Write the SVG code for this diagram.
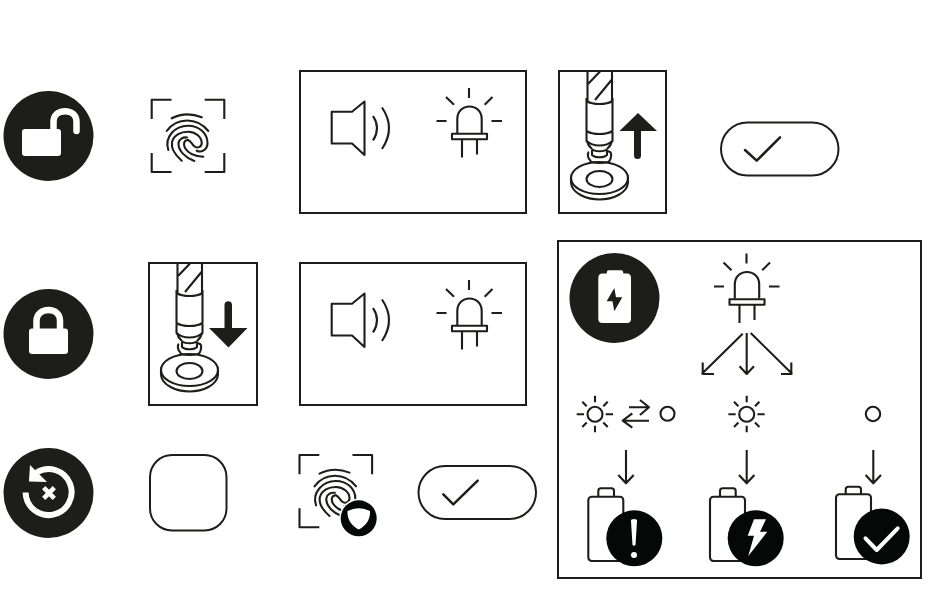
<svg xmlns="http://www.w3.org/2000/svg" width="950" height="614" viewBox="0 0 950 614">
<style>
.l{fill:none;stroke:#1d1d1b;stroke-width:2.100;stroke-linecap:butt;stroke-linejoin:round}
.r{fill:none;stroke:#1d1d1b;stroke-width:2.100;stroke-linecap:round;stroke-linejoin:round}
.box{fill:none;stroke:#1d1d1b;stroke-width:2}
.d{fill:#1d1d1b}
.k{fill:#060807}
.w{fill:#fff}
.ws{fill:none;stroke:#fff;stroke-linecap:round;stroke-linejoin:round}
</style>
<defs>
<g id="led">
<path class="l" d="M469 88V98M436.500 121H446.500M491.500 121H502M446 97L454 104.700M492.500 97L484.700 104.700"/>
<path class="l" d="M457.300 133V119C457.300 111 463 106.500 469.500 106.500C476 106.500 481.700 111 481.700 119V133"/>
<rect class="l" x="452" y="133.700" width="35" height="5.600"/>
<path class="l" d="M462 139.500V157.500M477 139.500V154.500"/>
</g>
<g id="speaker">
<path class="l" d="M331.700 111.700H352L364.500 101.500V155L352 143.500H331.700Z"/>
<path class="l" d="M373 116Q381 128 373 140.500M382 107.500Q396 128 382 149"/>
</g>
<g id="print">
<path class="r" d="M171.700 118.300Q186 111 201.700 117.300"/>
<path class="r" d="M166.700 131C177 117 197 117 208.300 131"/>
<path class="r" d="M168.300 150C164 137 175 125.700 188 125.700C200 125.700 207.500 134 207.500 143C207.500 150 201 153 196.700 150.700"/>
<path class="r" d="M181.700 160.700C174 154 171 148 172 142C174 135 181 131.500 188.300 131.700C196 132 201.700 137 201.700 143C201.700 147 197 149 194 146C192 144 191 141 188 140"/>
<path class="r" d="M194.300 161C186 158 178 151 178.500 143C179 139 183 137 187 137.500M188 140C184 140 183 144 185 148C188 153 195 156.500 203.300 156.700"/>
</g>
<g id="foot">
<path class="l" d="M587.500 71V101M612 71V101"/>
<path class="l" d="M588 84L600 71.500M595 100L611.500 80"/>
<path class="l" d="M586.500 98V131C593 135 606 135 612.500 131V98"/>
<path class="l" d="M586.500 101C593 105 606 105 612.500 101"/>
<path class="l" d="M586.500 132V141C593 147 606 147 612.500 141V132"/>
<path class="l" d="M587 141C588 146 591 148 592 149M612 141C611 146 608 148 607 149"/>
<path class="l" d="M592 149C594 152 605 152 607 149"/>
<path class="l" d="M592 150V155C595 158 604 158 607 155V150"/>
<path class="l" d="M589 152C587 153 588 159 590 160C590 164 609 164 610 160C611 158 612 153 610 152C608 151 606 151 606 151"/>
<ellipse class="l" cx="599.500" cy="178" rx="28.500" ry="16"/>
<path class="l" d="M571 178V183C572 193 586 199.500 599.500 199.500C613 199.500 627 193 628 183V178"/>
<ellipse class="l" cx="599.500" cy="179" rx="13" ry="8"/>
</g>
<g id="bracket3">
<path class="l" d="M151.700 119V99.700H171.500M204.700 99.700H224.300V119M151.700 153V172H171.500"/>
</g>
<g id="sun">
<circle class="l" cx="595" cy="414.300" r="7.500"/>
<path class="l" d="M595 395.700V402.300M595 425.700V432.300M576.700 414.300H584M605.700 414.300H613M582.300 401.700L586.700 406.300M607.700 401.700L603.300 406.300M582.300 427L586.700 422.500M607.700 427L603.300 422.500"/>
</g>
<g id="down">
<path class="l" d="M626 450V483.300M618.300 475L626 483.300L633.700 475"/>
</g>
</defs>

<g id="unlocked">
<circle class="d" cx="48.500" cy="136" r="45"/>
<rect class="w" x="22" y="129" width="39" height="27" rx="3"/>
<path class="ws" stroke-width="6.500" d="M53.500 130V122C53.500 115 58.500 111.300 65 111.300C71.500 111.300 76.500 115 76.500 122V131"/>
</g>
<g id="fingerprint">
<use href="#bracket3"/>
<path class="l" d="M224.300 153V172H204.700"/>
<use href="#print"/>
</g>
<g id="signal-top">
<rect class="box" x="300" y="71" width="226" height="142"/>
<use href="#speaker"/>
<use href="#led"/>
</g>
<g id="lift-up">
<rect class="box" x="559" y="71" width="107" height="142"/>
<use href="#foot"/>
<path class="d" d="M638 113L657 131H641V155.500A3.500 3.500 0 0 1 634 155.500V131H619.500Z"/>
</g>
<g id="confirm-top">
<rect x="721" y="122.500" width="117.500" height="53" rx="26.500" fill="none" stroke="#1d1d1b" stroke-width="2"/>
<path class="r" stroke-width="2.500" style="stroke-width:2.500" d="M745 150L756.700 160.700L780 137.300"/>
</g>

<g id="locked">
<circle class="d" cx="48.500" cy="334" r="45"/>
<rect class="w" x="29" y="328.500" width="39" height="25.500" rx="3"/>
<path class="ws" stroke-width="6.500" d="M36.500 332V321C36.500 314 42 310 48.500 310C55 310 60 314 60 321V332"/>
</g>
<g id="lift-down">
<rect class="box" x="149" y="263" width="108" height="142"/>
<use href="#foot" transform="translate(-410 192)"/>
<path class="d" d="M228.500 347.500L209 328H224.500V304.500A3.800 3.800 0 0 1 232 304.500V328H247.500Z"/>
</g>
<g id="signal-mid">
<rect class="box" x="300" y="263" width="226" height="142"/>
<use href="#speaker" transform="translate(0 192)"/>
<use href="#led" transform="translate(0 192)"/>
</g>

<g id="reset">
<circle class="d" cx="48.500" cy="493" r="45"/>
<path class="ws" stroke-width="6" d="M36.500 472.500A23 23 0 1 1 25.600 492.500" style="stroke-linecap:butt"/>
<path class="w" d="M30 465L29 481.500L47 482Z"/>
<path class="ws" stroke-width="4.600" d="M43.700 487.700L54.300 498.300M54.300 487.700L43.700 498.300" style="stroke-linecap:butt"/>
</g>
<g id="blank">
<rect x="150" y="455" width="76.500" height="75.500" rx="22" fill="none" stroke="#1d1d1b" stroke-width="2"/>
</g>
<g id="fingerprint-shield">
<g transform="translate(147.800 355.300)">
<use href="#bracket3"/>
<use href="#print"/>
</g>
<circle class="w" cx="358.700" cy="518.300" r="19.500"/>
<circle class="k" cx="358.700" cy="518.300" r="18"/>
<path class="w" d="M347.500 511Q359 505.500 370 511C370.500 520 365.500 526 358.700 529.500C352 526 347 520 347.500 511Z"/>
</g>
<g id="confirm-bottom">
<rect x="418.500" y="466" width="117.500" height="53" rx="26.500" fill="none" stroke="#1d1d1b" stroke-width="2"/>
<path class="r" style="stroke-width:2.500" d="M443.300 494.300L453.300 504.300L477.700 480.700"/>
</g>

<g id="charging-panel">
<rect class="box" x="558" y="241" width="363" height="337"/>
<circle class="d" cx="614.500" cy="298" r="45"/>
<path class="w" d="M608.700 270.300H621.300Q623.300 270.300 623.300 273.500H627Q631 273.500 631 278V319Q631 323 627 323H602.300Q598.300 323 598.300 319V278Q598.300 273.500 602.300 273.500H606.700Q606.700 270.300 608.700 270.300Z"/>
<path class="d" d="M614.300 288L606.700 301.300H612.500L614.300 311.300L622.300 297.300H616Z"/>
<use href="#led" transform="translate(277.500 165.500)"/>
</g>

<g id="connectors">
<path class="l" d="M746.700 333V374M739.500 366.300L746.700 374L754 366.300"/>
<path class="l" d="M742.700 333.700L701.700 374M702.700 362.500V374H714"/>
<path class="l" d="M750.700 333L792.300 374M791.300 362.500V374H781"/>
<path class="l" d="M629 407.300H649M640 400L649 407.300L640 415"/>
<path class="l" d="M649 420.700H622.700M632.300 413.300L622.700 420.700L632.300 427.700"/>
<use href="#down"/>
<use href="#down" transform="translate(120.700 0)"/>
<use href="#down" transform="translate(247.300 0)"/>
</g>

<g id="state-blink">
<use href="#sun"/>
<circle class="l" cx="667.500" cy="413.800" r="7"/>
</g>
<g id="state-on">
<use href="#sun" transform="translate(151.700 0)"/>
</g>
<g id="state-off">
<circle class="l" cx="873" cy="414" r="7.200"/>
</g>

<g id="battery-low">
<rect class="l" x="588.300" y="496.700" width="35" height="64.300" rx="3.500"/>
<path class="l" d="M598.300 496.700V491Q598.300 488.300 601 488.300H611.500Q614 488.300 614 491V496.700"/>
<circle class="k" cx="634.300" cy="538.300" r="28"/>
<path class="w" d="M631 520.500Q631 519 634 519Q637 519 637 520.500L635.500 545Q634 546.500 632.500 545Z"/>
<circle class="w" cx="634" cy="555" r="3"/>
</g>
<g id="battery-charging">
<rect class="l" x="710" y="496.700" width="35" height="64.300" rx="3.500"/>
<path class="l" d="M720 496.700V491Q720 488.300 722.700 488.300H733.200Q735.700 488.300 735.700 491V496.700"/>
<circle class="k" cx="755.700" cy="538.300" r="28"/>
<path class="w" d="M754 519.300H766L760 531.700H767.300L748.300 556L754 535.700H747.700Z"/>
</g>
<g id="battery-full">
<rect class="l" x="836" y="494.300" width="35" height="64.700" rx="3.500"/>
<path class="l" d="M845.700 494.300V489.500Q845.700 486.700 848.500 486.700H858.300Q861 486.700 861 489.500V494.300"/>
<circle class="k" cx="881.700" cy="536.500" r="28"/>
<path class="ws" stroke-width="4" d="M865.500 538.300L876.700 550L897.700 528.300"/>
</g>
</svg>
